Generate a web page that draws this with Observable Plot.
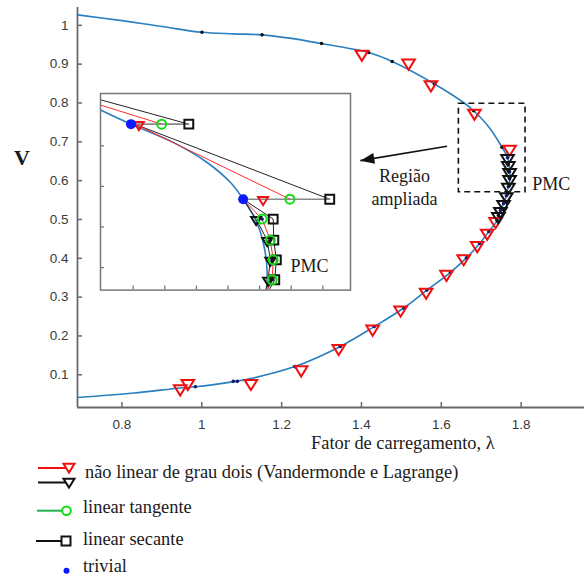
<!DOCTYPE html>
<html><head><meta charset="utf-8">
<script src="https://cdn.jsdelivr.net/npm/d3@7"></script>
<script src="https://cdn.jsdelivr.net/npm/@observablehq/plot@0.6"></script>
<style>
body{margin:0;background:#fff;}
#wrap{position:relative;width:584px;height:575px;overflow:hidden;}
#wrap > *{position:absolute;}
.serif{font-family:"Liberation Serif","Times New Roman",serif;color:#1a1a1a;white-space:nowrap;}
</style></head><body><div id="wrap"></div>
<script>
// ---------- DATA (main P-V curve, λ vs V) ----------
const pvCurve = [
  [0.689,1.027],[0.80,1.012],[0.90,0.997],[1.0,0.982],[1.08,0.978],[1.151,0.9755],[1.22,0.967],
  [1.30,0.953],[1.418,0.930],[1.477,0.907],[1.583,0.849],[1.660,0.798],[1.681,0.780],[1.72,0.737],
  [1.752,0.686],[1.766,0.659],[1.771,0.630],[1.772,0.605],[1.768,0.585],[1.763,0.561],[1.756,0.541],
  [1.748,0.523],[1.740,0.497],[1.719,0.469],[1.696,0.438],[1.663,0.401],[1.623,0.364],[1.564,0.318],
  [1.506,0.272],[1.432,0.224],[1.347,0.173],[1.233,0.121],[1.122,0.090],[1.084,0.083],[0.984,0.069],
  [0.946,0.066],[0.829,0.053],[0.689,0.0415]
];
const upperDots = [[1.0005,0.982],[1.151,0.9755],[1.300,0.953],[1.418,0.930],[1.477,0.907],[1.583,0.849],[1.681,0.780],[1.752,0.686]];
const lowerDots = [[0.984,0.069],[1.079,0.083],[1.089,0.083],[1.233,0.121],[1.347,0.173],[1.432,0.224],[1.506,0.272],
  [1.564,0.318],[1.623,0.364],[1.663,0.401],[1.696,0.438],[1.719,0.469],[1.740,0.497]];
const redTriangles = [[1.401,0.928],[1.518,0.905],[1.574,0.849],[1.683,0.776],[1.771,0.683],
  [0.946,0.066],[0.965,0.080],[1.123,0.080],[1.249,0.115],[1.343,0.170],[1.428,0.220],[1.498,0.269],
  [1.562,0.315],[1.613,0.361],[1.656,0.401],[1.690,0.435],[1.715,0.467],[1.736,0.497]];
const blackTriangles = [[1.766,0.659],[1.768,0.641],[1.771,0.623],[1.771,0.605],[1.768,0.585],[1.763,0.561],
  [1.756,0.541],[1.748,0.523],[1.743,0.510]];
const xTicks = [0.8,1,1.2,1.4,1.6,1.8];
const yTicks = [0.1,0.2,0.3,0.4,0.5,0.6,0.7,0.8,0.9,1];
const xDomain = [0.6887,1.9587];
const yDomain = [0.0157,1.0459];
// annotations
const zoomBox = [{x1:1.644,x2:1.811,y1:0.570,y2:0.798}];
const arrowLine = [{x1:1.6145,y1:0.6885,x2:1.3972,y2:0.6515}];
const regionTexts = [{x:1.508,y:0.611,text:"Região"},{x:1.508,y:0.553,text:"ampliada"}];
const pmcText = [{x:1.8276,y:0.590,text:"PMC"}];
// ---------- DATA (inset, zoomed region) ----------
const insetXDomain = [1.68965,1.76877];
const insetYDomain = [0.6289,0.7258];
const insetXTicks = [1.70,1.71,1.72,1.73,1.74,1.75,1.76];
const insetYTicks = [0.64,0.66,0.68,0.70];
const insetCurve = [[1.68965,0.7177],[1.6993,0.7107],[1.7128,0.7016],[1.7234,0.6918],[1.7308,0.6819],[1.7348,0.6737],
  [1.7381,0.6655],[1.7403,0.6573],[1.7418,0.6474],[1.7424,0.6376],[1.7422,0.6289]];
const insetTrivial = [[1.6993,0.7107],[1.7348,0.6737]];
const insetRedTri = [[1.7018,0.7107],[1.7411,0.6737]];
const insetBlackTri = [[1.7389,0.6639],[1.7424,0.6535],[1.7434,0.6438],[1.7427,0.6340]];
const insetGreen = [[1.7090,0.7107],[1.7496,0.6737],[1.7408,0.6639],[1.7434,0.6535],[1.7443,0.6438],[1.7440,0.6340]];
const insetSquares = [[1.7176,0.7107],[1.7622,0.6737],[1.7443,0.6639],[1.7445,0.6535],[1.7453,0.6438],[1.7448,0.6340]];
const insetBlackLines = [
  [[1.68965,0.7227],[1.7176,0.7107]],
  [[1.7013,0.7102],[1.7622,0.6737]],
  [[1.7348,0.6737],[1.7443,0.6639],[1.7445,0.6535],[1.7453,0.6438],[1.7448,0.6340],[1.7430,0.6289]],
  [[1.7348,0.6737],[1.7389,0.6639],[1.7424,0.6535],[1.7434,0.6438],[1.7427,0.6340],[1.7420,0.6289]]
];
const insetRedLines = [
  [[1.68965,0.7201],[1.7090,0.7107]],
  [[1.7013,0.7102],[1.7496,0.6737]],
  [[1.7348,0.6737],[1.7408,0.6639],[1.7434,0.6535],[1.7443,0.6438],[1.7440,0.6340],[1.7425,0.6289]]
];
const insetRows = [[1.6993,1.7176,0.7107],[1.7348,1.7622,0.6737]];
const insetPMC = [{x:1.7498,y:0.6409,text:"PMC"}];

// ---------- STYLES ----------
const BLUE = "#2a7fc0", RED = "#f01010", GREEN = "#10dd10", NAVY = "#101a70";
const SERIF = "'Liberation Serif','Times New Roman',serif";
const triDown = {draw(ctx, size){ const r = Math.sqrt(size/Math.PI);
  ctx.moveTo(-r,-0.42*r); ctx.lineTo(r,-0.42*r); ctx.lineTo(0,1.2*r); ctx.closePath(); }};
const headLeft = {draw(ctx){ // filled arrow head, tip at origin
  const ux=-0.986, uy=0.163, L=14, W=5.5; const bx=-L*ux, by=-L*uy, nx=-uy, ny=ux;
  ctx.moveTo(0,0); ctx.lineTo(bx+W*nx,by+W*ny); ctx.lineTo(bx-W*nx,by-W*ny); ctx.closePath(); }};
const px = d=>d[0], py = d=>d[1];

const wrap = document.getElementById("wrap");
const W = 584, H = 452, mL = 77, mR = 0, mT = 7, mB = 45;
const main = Plot.plot({
  width: W, height: H, marginLeft: mL, marginRight: mR, marginTop: mT, marginBottom: mB,
  x: {domain: xDomain}, y: {domain: yDomain},
  style: {fontFamily: "'Liberation Sans',Arial,sans-serif", fontSize: "13.5px", color: "#3a3a3a", background: "transparent", overflow: "visible"},
  marks: [
    Plot.axisX({ticks: xTicks, tickSize: 0, tickPadding: 12, tickFormat: d=>`${d}`, label: null}),
    Plot.axisY({ticks: yTicks, tickSize: 0, tickPadding: 9, tickFormat: d=>`${d}`, label: null}),
    Plot.tickX(xTicks, {x: d=>d, insetTop: H-mT-mB-5, stroke: "#6a6a6a", strokeWidth: 1.5}),
    Plot.tickY(yTicks, {y: d=>d, insetRight: W-mL-mR-5, stroke: "#6a6a6a", strokeWidth: 1.5}),
    Plot.ruleX([xDomain[0]], {stroke: "#6a6a6a", strokeWidth: 1.8}),
    Plot.ruleY([yDomain[0]], {stroke: "#6a6a6a", strokeWidth: 1.8}),
    Plot.line(pvCurve, {x: px, y: py, curve: "catmull-rom", stroke: BLUE, strokeWidth: 1.6}),
    Plot.dot(upperDots, {x: px, y: py, r: 1.8, fill: "#111"}),
    Plot.dot(lowerDots, {x: px, y: py, r: 1.8, fill: NAVY}),
    Plot.dot(blackTriangles, {x: px, y: py, r: 1.8, fill: NAVY}),
    Plot.dot(redTriangles, {x: px, y: py, symbol: triDown, r: 6.3, fill: "none", stroke: RED, strokeWidth: 2}),
    Plot.dot(blackTriangles, {x: px, y: py, symbol: triDown, r: 6.3, fill: "none", stroke: "#111", strokeWidth: 2}),
    Plot.rect(zoomBox, {x1:"x1", x2:"x2", y1:"y1", y2:"y2", fill: "none", stroke: "#111", strokeWidth: 1.6, strokeDasharray: "6,4"}),
    Plot.link(arrowLine, {x1:"x1", y1:"y1", x2:"x2", y2:"y2", stroke: "#111", strokeWidth: 1.6}),
    Plot.dot(arrowLine, {x:"x2", y:"y2", symbol: headLeft, r: 5, fill: "#111", stroke: "none"}),
    Plot.text(regionTexts, {x:"x", y:"y", text:"text", textAnchor: "middle", fontFamily: SERIF, fontSize: 18, fill: "#1a1a1a"}),
    Plot.text(pmcText, {x:"x", y:"y", text:"text", textAnchor: "start", fontFamily: SERIF, fontSize: 18, fill: "#1a1a1a"})
  ]
});
main.style.left = "0px"; main.style.top = "0px";
wrap.appendChild(main);

// inset plot
const iL = 99, iT = 91.7, iW = 252, iH = 198.6;
const inset = Plot.plot({
  width: iW, height: iH, marginLeft: 1, marginRight: 1, marginTop: 1, marginBottom: 1,
  x: {domain: insetXDomain, axis: null}, y: {domain: insetYDomain, axis: null},
  style: {background: "#fff", overflow: "visible"},
  marks: [
    Plot.tickX(insetXTicks, {x: d=>d, insetTop: iH-2-4, stroke: "#777", strokeWidth: 1.3}),
    Plot.tickY(insetYTicks, {y: d=>d, insetRight: iW-2-4, stroke: "#777", strokeWidth: 1.3}),
    Plot.line(insetCurve, {x: px, y: py, curve: "catmull-rom", stroke: BLUE, strokeWidth: 1.6, clip: true}),
    ...insetBlackLines.map(l => Plot.line(l, {x: px, y: py, stroke: "#222", strokeWidth: 1, clip: true})),
    ...insetRedLines.map(l => Plot.line(l, {x: px, y: py, stroke: "#ff2a2a", strokeWidth: 1, clip: true})),
    Plot.link(insetRows, {x1: d=>d[0], x2: d=>d[1], y1: d=>d[2], y2: d=>d[2], stroke: "#888", strokeWidth: 1.6}),
    Plot.dot(insetGreen.slice(2), {x: px, y: py, r: 1.8, fill: NAVY}),
    Plot.dot(insetSquares, {x: px, y: py, symbol: "square", r: 5, fill: "none", stroke: "#111", strokeWidth: 2}),
    Plot.dot(insetBlackTri, {x: px, y: py, symbol: triDown, r: 5, fill: "none", stroke: "#111", strokeWidth: 2}),
    Plot.dot(insetGreen, {x: px, y: py, r: 4.5, fill: "none", stroke: GREEN, strokeWidth: 2}),
    Plot.dot(insetRedTri, {x: px, y: py, symbol: triDown, r: 5, fill: "none", stroke: RED, strokeWidth: 2}),
    Plot.dot(insetTrivial, {x: px, y: py, r: 5, fill: "#0a1aff"}),
    Plot.text(insetPMC, {x:"x", y:"y", text:"text", textAnchor: "start", fontFamily: SERIF, fontSize: 18, fill: "#1a1a1a"}),
    Plot.frame({stroke: "#777", strokeWidth: 1.5})
  ]
});
inset.style.left = iL + "px"; inset.style.top = iT + "px";
wrap.appendChild(inset);

// axis titles
const vLab = document.createElement("div");
vLab.className = "serif"; vLab.textContent = "V";
Object.assign(vLab.style, {left: "14px", top: "147px", fontSize: "22px", fontWeight: "bold", lineHeight: "22px"});
wrap.appendChild(vLab);
const xLab = document.createElement("div");
xLab.className = "serif"; xLab.textContent = "Fator de carregamento, λ";
Object.assign(xLab.style, {left: "311px", top: "434px", fontSize: "18.4px", lineHeight: "18px"});
wrap.appendChild(xLab);

// legend (below the chart)
const legendItems = [
  "não linear de grau dois (Vandermonde e Lagrange)",
  "linear tangente",
  "linear secante",
  "trivial"
];
const leg = d3.create("svg").attr("width", 584).attr("height", 123)
  .style("left","0px").style("top","452px");
const g = leg.append("g");
const tri = (x,y,r) => `M${x-r},${y-0.42*r}L${x+r},${y-0.42*r}L${x},${y+1.2*r}Z`;
g.append("line").attr("x1",38).attr("x2",66).attr("y1",16).attr("y2",16).attr("stroke",RED).attr("stroke-width",2);
g.append("path").attr("d",tri(69,14,5.5)).attr("fill","none").attr("stroke",RED).attr("stroke-width",2);
g.append("line").attr("x1",38).attr("x2",66).attr("y1",30.5).attr("y2",30.5).attr("stroke","#111").attr("stroke-width",2);
g.append("path").attr("d",tri(69,29,5.5)).attr("fill","none").attr("stroke","#111").attr("stroke-width",2);
g.append("line").attr("x1",37).attr("x2",62).attr("y1",58.7).attr("y2",58.7).attr("stroke","#22b14c").attr("stroke-width",2);
g.append("circle").attr("cx",66.5).attr("cy",58.7).attr("r",4.3).attr("fill","none").attr("stroke",GREEN).attr("stroke-width",2);
g.append("line").attr("x1",36).attr("x2",61).attr("y1",89).attr("y2",89).attr("stroke","#111").attr("stroke-width",2);
g.append("rect").attr("x",61.5).attr("y",84.5).attr("width",9).attr("height",9).attr("fill","#fff").attr("stroke","#111").attr("stroke-width",2);
g.append("circle").attr("cx",66.5).attr("cy",118.7).attr("r",3).attr("fill","#0a1aff");
const tY = [26.3, 61.3, 93, 119.7], tX = [85, 83, 83, 83];
legendItems.forEach((t,i) => g.append("text").attr("x",tX[i]).attr("y",tY[i]).text(t)
  .attr("font-family",SERIF).attr("font-size",18.4).attr("fill","#1a1a1a"));
wrap.appendChild(leg.node());
</script></body></html>
